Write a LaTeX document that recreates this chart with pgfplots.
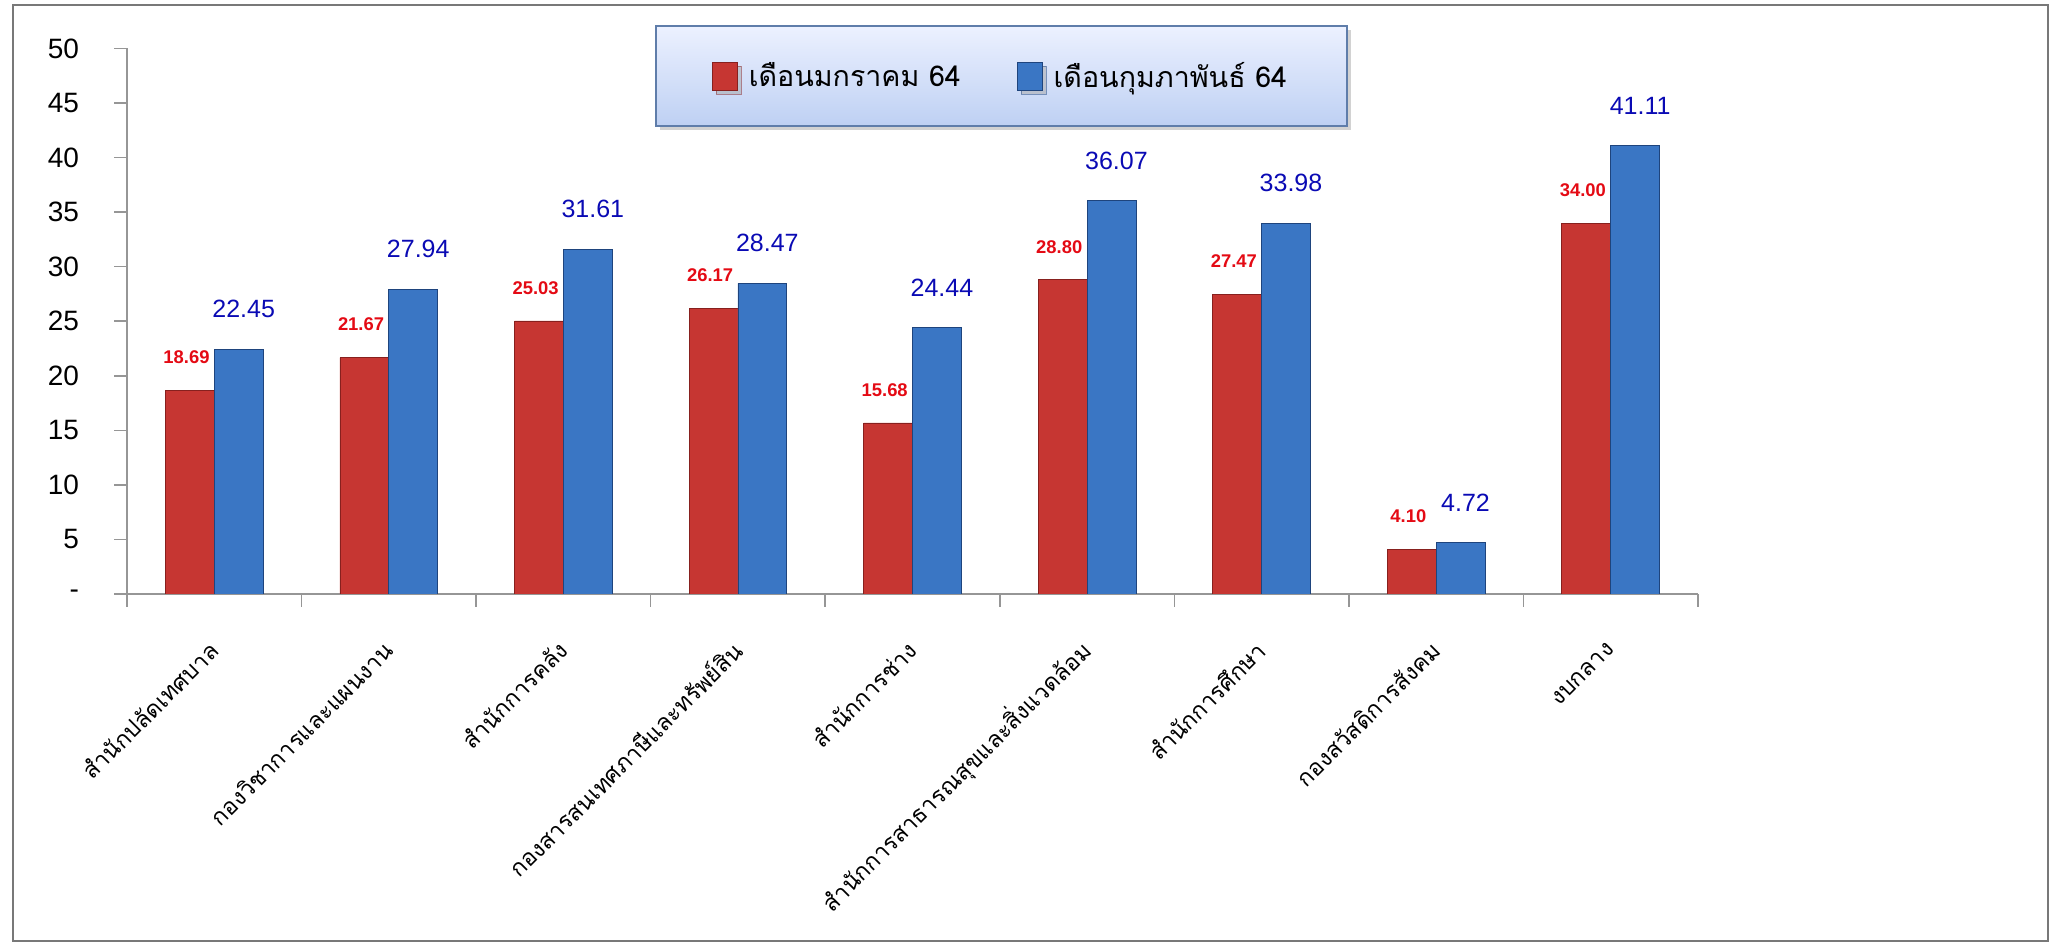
\documentclass[border=0pt]{standalone}
\usepackage{fontspec}
\setmainfont{Liberation Sans}
\newfontfamily\thaifont[Script=Thai]{Loma}
\usepackage{pgfplots}
\usepackage{pgfplotstable}
\pgfplotsset{compat=1.18}
\usetikzlibrary{shadows}

\definecolor{redF}{RGB}{198,54,50}
\definecolor{redD}{RGB}{135,32,30}
\definecolor{blueF}{RGB}{58,118,196}
\definecolor{blueD}{RGB}{30,68,125}
\definecolor{labred}{RGB}{228,10,20}
\definecolor{labblue}{RGB}{10,10,180}
\definecolor{axgray}{RGB}{150,150,150}
\definecolor{framegray}{RGB}{120,120,120}
\definecolor{legtop}{RGB}{236,241,255}
\definecolor{legbot}{RGB}{190,208,243}
\definecolor{legborder}{RGB}{95,125,170}

\pgfplotstableread{
x r b
0 18.69 22.45
1 21.67 27.94
2 25.03 31.61
3 26.17 28.47
4 15.68 24.44
5 28.80 36.07
6 27.47 33.98
7 4.10 4.72
8 34.00 41.11
}\datatable

\begin{document}
\begin{tikzpicture}
\path[use as bounding box] (0,0) rectangle (1028pt,472.5pt);
\draw[framegray, line width=1.3pt] (6.5pt,2pt) rectangle (1024pt,470pt);
\begin{axis}[
  at={(63.5pt,175.5pt)}, anchor=south west,
  scale only axis, width=785.5pt, height=272.75pt,
  xmin=-0.5, xmax=8.5, ymin=0, ymax=50,
  axis x line*=bottom, axis y line*=left,
  axis line style={draw=axgray, line width=0.8pt},
  tick align=outside, major tick length=6.5pt,
  tick style={draw=axgray, line width=0.8pt},
  ytick={0,5,...,50},
  yticklabels={-,5,10,15,20,25,30,35,40,45,50},
  yticklabel style={font=\fontsize{14}{14}\selectfont, xshift=-14pt},
  xtick={-0.5,0.5,...,8.5}, xticklabels={},
  extra x ticks={0,1,2,3,4,5,6,7,8},
  extra x tick labels={สำนักปลัดเทศบาล,กองวิชาการและแผนงาน,สำนักการคลัง,กองสารสนเทศภาษีและทรัพย์สิน,สำนักการช่าง,สำนักการสาธารณสุขและสิ่งแวดล้อม,สำนักการศึกษา,กองสวัสดิการสังคม,งบกลาง},
  extra x tick style={major tick length=0pt, xticklabel style={font=\thaifont\fontsize{11.6}{13}\selectfont, inner sep=0pt, xshift=0pt, yshift=-26pt, rotate=45, anchor=east}},
  /pgf/number format/assume math mode=true,
  bar width=0.28,
  legend columns=2,
  legend style={at={(0.5567,0.9496)}, anchor=center, draw=legborder, line width=0.8pt,
    top color=legtop, bottom color=legbot,
    drop shadow={shadow xshift=2pt, shadow yshift=-2pt, fill=black!35},
    font=\thaifont\fontsize{14.3}{16}\selectfont,
    inner xsep=28pt, inner ysep=16pt,
    /tikz/every even column/.append style={column sep=26pt}},
  legend image code/.code={\draw[#1, line width=0.4pt] (0pt,-7pt) rectangle (12.5pt,7pt); \path (16pt,0pt);},
]
\addplot[ybar, bar shift=-0.14, draw=redD, line width=0.4pt, fill=redF,
  point meta=y,
  nodes near coords={\pgfmathprintnumber[fixed,fixed zerofill,precision=2]{\pgfplotspointmeta}},
  every node near coord/.append style={font=\bfseries\fontsize{9.2}{10}\selectfont, text=labred, anchor=center, yshift=16.5pt, xshift=-13.9pt, inner sep=0pt}]
  table[x=x, y=r] {\datatable};
\addlegendentry{เดือนมกราคม 64}
\addplot[ybar, bar shift=0.14, draw=blueD, line width=0.4pt, fill=blueF,
  point meta=y,
  nodes near coords={\pgfmathprintnumber[fixed,fixed zerofill,precision=2]{\pgfplotspointmeta}},
  every node near coord/.append style={font=\fontsize{12.5}{13}\selectfont, text=labblue, anchor=center, yshift=20pt, xshift=14.7pt, inner sep=0pt}]
  table[x=x, y=b] {\datatable};
\addlegendentry{เดือนกุมภาพันธ์ 64}
\end{axis}
\end{tikzpicture}
\end{document}
